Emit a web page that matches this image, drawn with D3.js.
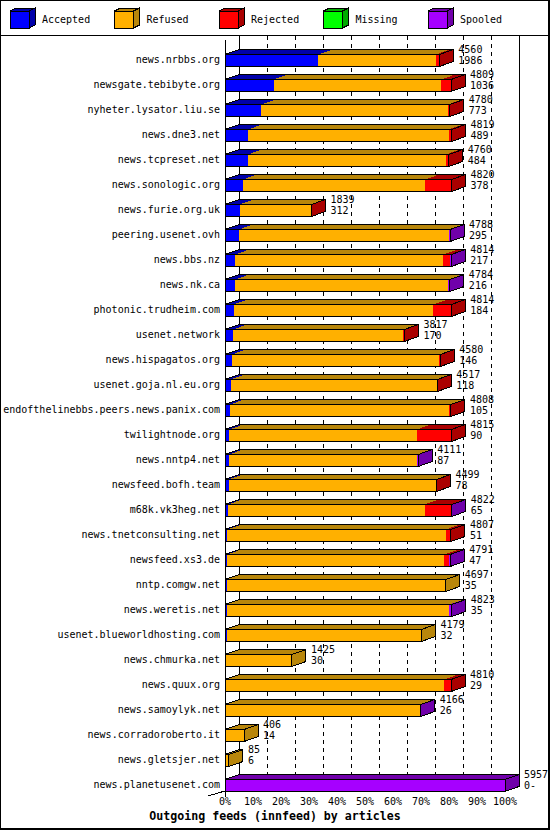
<!DOCTYPE html>
<html><head><meta charset="utf-8">
<script src="https://cdn.jsdelivr.net/npm/d3@7"></script>
<style>html,body{margin:0;padding:0;background:#fff;}svg{display:block;}</style>
</head><body>
<div id="chart"></div>
<script>
const hosts = ["news.nrbbs.org","newsgate.tebibyte.org","nyheter.lysator.liu.se","news.dne3.net","news.tcpreset.net","news.sonologic.org","news.furie.org.uk","peering.usenet.ovh","news.bbs.nz","news.nk.ca","photonic.trudheim.com","usenet.network","news.hispagatos.org","usenet.goja.nl.eu.org","endofthelinebbs.peers.news.panix.com","twilightnode.org","news.nntp4.net","newsfeed.bofh.team","m68k.vk3heg.net","news.tnetconsulting.net","newsfeed.xs3.de","nntp.comgw.net","news.weretis.net","usenet.blueworldhosting.com","news.chmurka.net","news.quux.org","news.samoylyk.net","news.corradoroberto.it","news.gletsjer.net","news.planetusenet.com"];
const accepted = [1986,1036,773,489,484,378,312,295,217,216,184,170,146,118,105,90,87,78,65,51,47,35,35,32,30,29,26,14,6,0];
const refused  = [2498,3566,3966,4270,4213,3883,1511,4464,4428,4534,4249,3617,4413,4387,4668,3989,4004,4404,4183,4645,4619,4662,4738,4147,1395,4636,4117,392,79,0];
const rejected = [76,207,41,60,63,559,16,0,142,0,381,30,21,12,35,736,0,17,553,111,106,0,0,0,0,145,0,0,0,0];
const missing  = [0,0,0,0,0,0,0,0,0,0,0,0,0,0,0,0,0,0,0,0,0,0,0,0,0,0,0,0,0,0];
const spooled  = [0,0,0,0,0,0,0,29,27,34,0,0,0,0,0,0,20,0,21,0,19,0,50,0,0,0,23,0,0,5957];
const seriesNames = ["Accepted","Refused","Rejected","Missing","Spooled"];
const tickLabels = ["0%","10%","20%","30%","40%","50%","60%","70%","80%","90%","100%"];
const title = "Outgoing feeds (innfeed) by articles";

const frontColors = ["#0000ff","#ffb000","#ff0000","#00ff00","#a600ff"];
const darkColors  = ["#0000aa","#b8860b","#aa0000","#00aa00","#7000aa"];
const series = [accepted, refused, rejected, missing, spooled];

const W = 550, H = 830, DX = 14, DY = 5;
const FONT = "'DejaVu Sans Mono', monospace";

const svg = d3.select("#chart").append("svg")
  .attr("width", W).attr("height", H)
  .attr("shape-rendering", "crispEdges");

svg.append("rect").attr("x",0).attr("y",0).attr("width",W).attr("height",H).attr("fill","#fff");

// Legend
const leg = svg.append("g");
seriesNames.forEach((name, i) => {
  const x0 = 10 + i * 104.5, y0 = 11, bw = 19, bh = 17, ld = 6, lh = 3;
  const g = leg.append("g");
  g.append("polygon").attr("points", [[x0,y0],[x0+ld,y0-lh],[x0+bw+ld,y0-lh],[x0+bw,y0]].join(" "))
    .attr("fill", darkColors[i]).attr("stroke","#000");
  g.append("polygon").attr("points", [[x0+bw,y0],[x0+bw+ld,y0-lh],[x0+bw+ld,y0+bh-lh],[x0+bw,y0+bh]].join(" "))
    .attr("fill", darkColors[i]).attr("stroke","#000");
  g.append("rect").attr("x",x0).attr("y",y0).attr("width",bw).attr("height",bh)
    .attr("fill", frontColors[i]).attr("stroke","#000");
  g.append("text").attr("x", x0 + 32).attr("y", 19).attr("dominant-baseline","central")
    .attr("font-family", FONT).attr("font-size", 10).attr("fill","#000").text(name);
});
svg.append("line").attr("x1",0).attr("x2",W).attr("y1",35.5).attr("y2",35.5).attr("stroke","#000");

// Scales
const totals = hosts.map((h, i) => series.reduce((s, a) => s + a[i], 0));
const maxTotal = d3.max(totals);
const x = d3.scaleLinear().domain([0, 100]).range([225, 505]);
const y = d3.scaleBand().domain(hosts).range([47, 797]).paddingInner(0.52).paddingOuter(0.26);
const bh = y.bandwidth();
const pct = v => x(v / maxTotal * 100);

// Back grid
const grid = svg.append("g");
tickLabels.forEach((t, k) => {
  const gx = Math.round(x(k * 10) + DX) + 0.5;
  grid.append("line").attr("x1", gx).attr("x2", gx).attr("y1", 36).attr("y2", 785)
    .attr("stroke", "#000")
    .attr("stroke-dasharray", (k === 0 || k === 10) ? null : "4,4");
});
// Front axis and floor edge
svg.append("line").attr("x1",225.5).attr("x2",225.5).attr("y1",40).attr("y2",797).attr("stroke","#000");
svg.append("line").attr("x1",208).attr("y1",796).attr("x2",225).attr("y2",791).attr("stroke","#000");

// Tick labels
svg.append("g").selectAll("text").data(tickLabels).join("text")
  .attr("x", (d, k) => x(k * 10)).attr("y", 801).attr("text-anchor","middle")
  .attr("dominant-baseline","central").attr("font-family", FONT).attr("font-size", 10)
  .attr("fill","#000").text(d => d);

// Bars
const bars = svg.append("g");
hosts.forEach((h, i) => {
  const y0 = Math.round(y(h)) + 0.5;
  const g = bars.append("g");
  let cum = 0, last = 0;
  const x0 = pct(0);
  series.forEach((arr, j) => {
    const v = arr[i];
    if (v <= 0) return;
    const xa = pct(cum), xb = pct(cum + v);
    g.append("polygon").attr("points", [[xa,y0],[xa+DX,y0-DY],[xb+DX,y0-DY],[xb,y0]].join(" "))
      .attr("fill", darkColors[j]);
    g.append("rect").attr("x", xa).attr("y", y0).attr("width", Math.max(0, xb - xa)).attr("height", bh)
      .attr("fill", frontColors[j]);
    cum += v; last = j;
  });
  const xe = pct(cum);
  g.append("polygon").attr("points", [[xe,y0],[xe+DX,y0-DY],[xe+DX,y0+bh-DY],[xe,y0+bh]].join(" "))
    .attr("fill", darkColors[last]).attr("stroke","#000");
  g.append("polygon").attr("points", [[x0,y0],[x0+DX,y0-DY],[xe+DX,y0-DY],[xe,y0]].join(" "))
    .attr("fill","none").attr("stroke","#000");
  g.append("rect").attr("x", x0).attr("y", y0).attr("width", xe - x0).attr("height", bh)
    .attr("fill","none").attr("stroke","#000");

  // host label
  svg.append("text").attr("x", 220).attr("y", y0 + bh/2 - 1).attr("text-anchor","end")
    .attr("dominant-baseline","central").attr("font-family", FONT).attr("font-size", 10)
    .attr("fill","#000").text(h);
  // value labels
  svg.append("text").attr("x", xe + 19).attr("y", y0 - 5)
    .attr("dominant-baseline","central").attr("font-family", FONT).attr("font-size", 10)
    .attr("fill","#000").text(totals[i]);
  svg.append("text").attr("x", xe + 19).attr("y", y0 + 6)
    .attr("dominant-baseline","central").attr("font-family", FONT).attr("font-size", 10)
    .attr("fill","#000").text(accepted[i] === 0 ? "0-" : accepted[i]);
});

// Title
svg.append("text").attr("x", 275).attr("y", 816).attr("text-anchor","middle")
  .attr("dominant-baseline","central").attr("font-family", FONT).attr("font-size", 11.6)
  .attr("font-weight","bold").attr("fill","#000").text(title);

// Outer border
svg.append("rect").attr("x",0.5).attr("y",0.5).attr("width",W-1.5).attr("height",H-1.5)
  .attr("fill","none").attr("stroke","#000").attr("stroke-width",1.5);
</script>
</body></html>
